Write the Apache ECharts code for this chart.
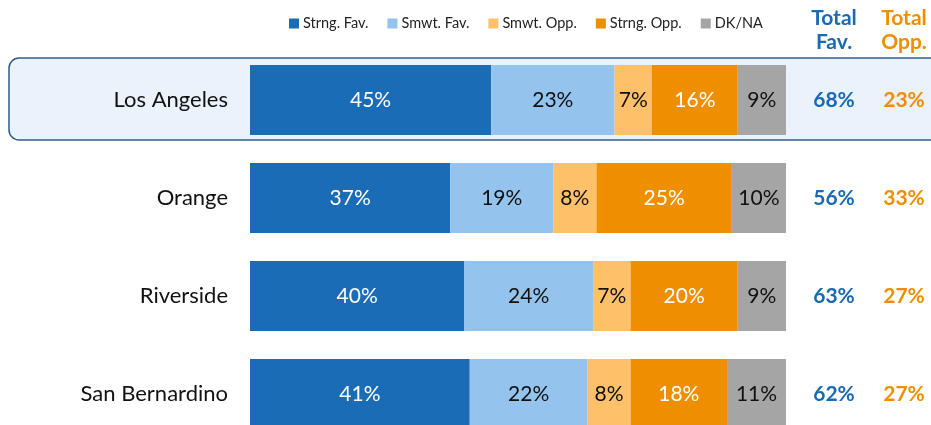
<!DOCTYPE html>
<html><head><meta charset="utf-8">
<script src="https://cdn.jsdelivr.net/npm/echarts@6/dist/echarts.min.js"></script>
<style>html,body{margin:0;padding:0;background:#fff}#c{width:931px;height:425px}</style>
</head><body><div id="c"></div>
<script>
const categories = ['Los Angeles', 'Orange', 'Riverside', 'San Bernardino'];
const seriesNames = ['Strng. Fav.', 'Smwt. Fav.', 'Smwt. Opp.', 'Strng. Opp.', 'DK/NA'];
const strngFav = [45, 37, 40, 41];
const smwtFav = [23, 19, 24, 22];
const smwtOpp = [7, 8, 7, 8];
const strngOpp = [16, 25, 20, 18];
const dkna = [9, 10, 9, 11];
const totalFav = [68, 56, 63, 62];
const totalOpp = [23, 33, 27, 27];
const totalHeaders = ['Total\nFav.', 'Total\nOpp.'];

const colors = ['#1B6CB6', '#94C4EE', '#FEC068', '#EF8F00', '#A5A5A5'];
const labelColors = ['#fff', '#111', '#111', '#fff', '#111'];
const FONT = 'Lato';
const raw = [strngFav, smwtFav, smwtOpp, strngOpp, dkna];
const sums = categories.map((_, i) => raw.reduce((s, a) => s + a[i], 0));

const chart = echarts.init(document.getElementById('c'));
const barSeries = raw.map((arr, k) => ({
  name: seriesNames[k], type: 'bar', stack: 'all', barWidth: 70,
  xAxisIndex: 0, yAxisIndex: 0,
  itemStyle: { color: colors[k] },
  label: { show: true, position: 'inside', color: labelColors[k], fontFamily: FONT, fontSize: 21,
    textBorderWidth: 0, formatter: p => arr[p.dataIndex] + '%' },
  data: arr.map((v, i) => v / sums[i] * 100)
}));
const totalColors = ['#1A69B2', '#EF8F00'];
const totalSeries = [totalFav, totalOpp].map((arr, k) => ({
  type: 'scatter', xAxisIndex: 1, yAxisIndex: 1, symbolSize: 0, silent: true,
  itemStyle: { color: totalColors[k], opacity: 1 },
  label: { show: true, position: 'inside', fontFamily: FONT, fontWeight: 'bold', fontSize: 21,
    color: totalColors[k], textBorderWidth: 0, textBorderColor: 'transparent', opacity: 1,
    formatter: p => arr[p.dataIndex] + '%' },
  data: arr.map((v, i) => [k, i])
}));

chart.setOption({
  animation: false,
  legend: {
    data: seriesNames, left: 284, top: 11, icon: 'rect', itemWidth: 10, itemHeight: 10, itemGap: 19,
    textStyle: { fontFamily: FONT, fontSize: 14.5, color: '#222', padding: [0, 0, 0, -1] }
  },
  graphic: [{
    type: 'rect', z: -10, shape: { x: 9, y: 58, width: 940, height: 82, r: 10 },
    style: { fill: '#EAF2FB', stroke: '#2F5C8C', lineWidth: 1.5 }
  }],
  grid: [
    { left: 250, width: 536, top: 51, height: 392, outerBoundsMode: 'none' },
    { left: 799, width: 140, top: 51, height: 392, outerBoundsMode: 'none' }
  ],
  xAxis: [
    { type: 'value', min: 0, max: 100, show: false, gridIndex: 0 },
    { type: 'category', gridIndex: 1, position: 'top',
      data: totalHeaders.map((h, k) => ({ value: h, textStyle: { color: totalColors[k] } })),
      axisLine: { show: false }, axisTick: { show: false },
      axisLabel: { fontFamily: FONT, fontWeight: 'bold', fontSize: 21, lineHeight: 24, margin: -3, interval: 0 } }
  ],
  yAxis: [
    { type: 'category', inverse: true, data: categories, gridIndex: 0,
      axisLine: { show: false }, axisTick: { show: false },
      axisLabel: { fontFamily: FONT, fontSize: 22, color: '#111', margin: 22 } },
    { type: 'category', inverse: true, data: categories, gridIndex: 1, show: false }
  ],
  series: barSeries.concat(totalSeries)
});
</script></body></html>
